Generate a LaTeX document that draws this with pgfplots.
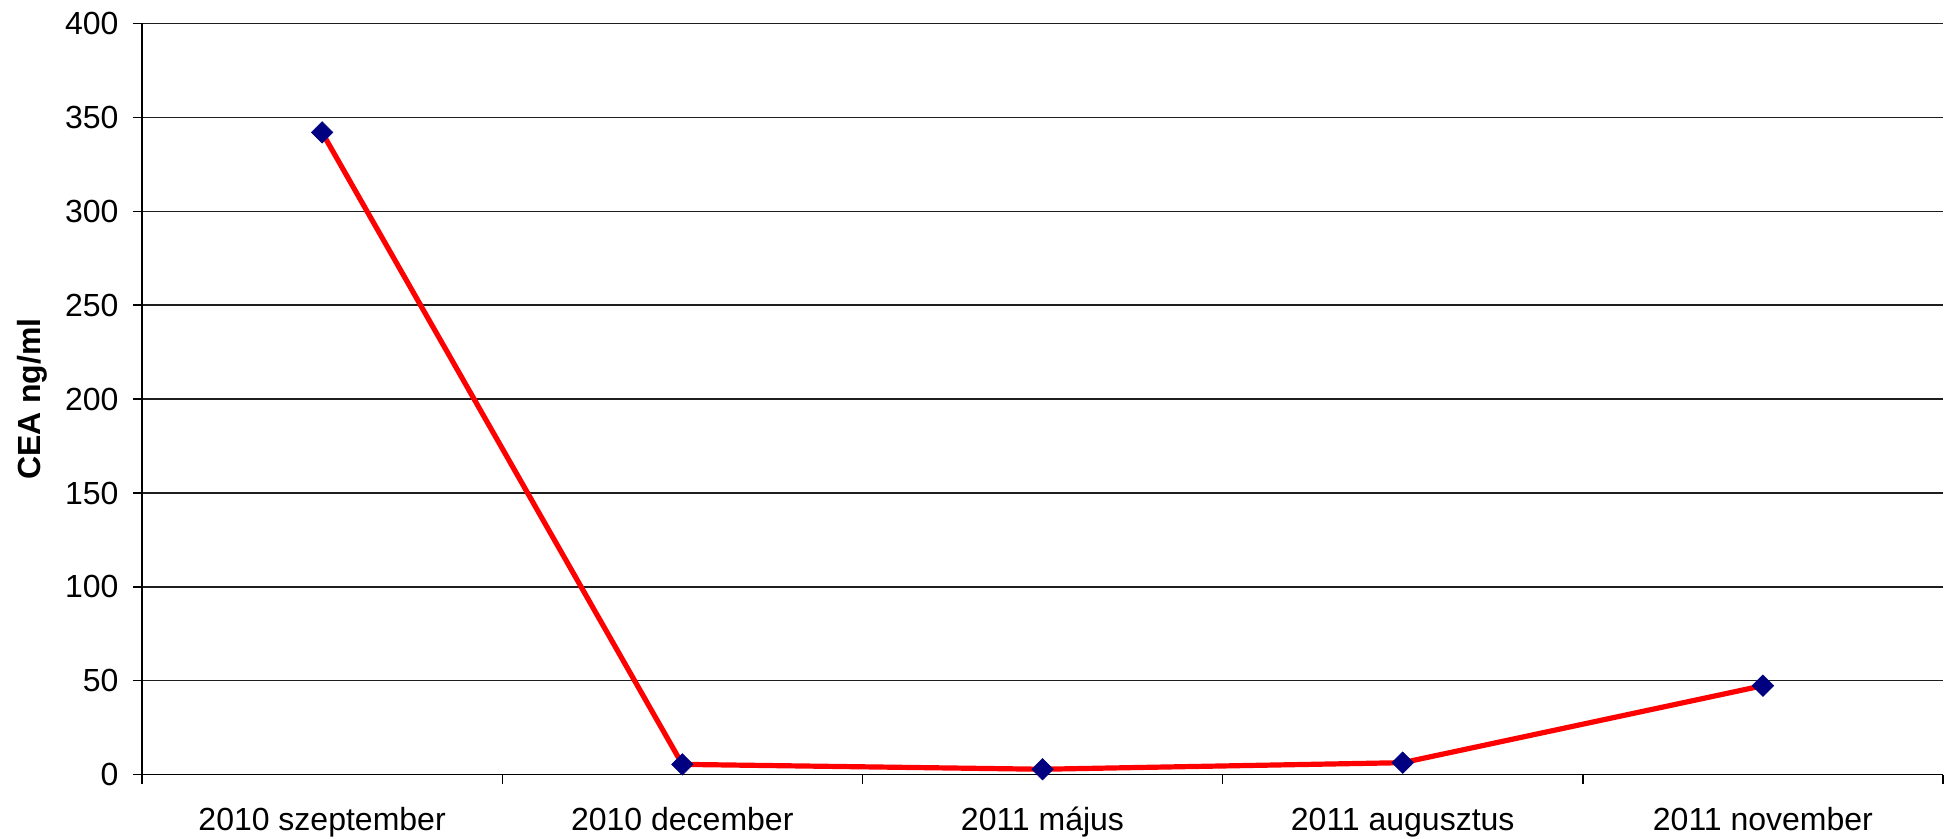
\documentclass[border=0pt]{standalone}
\usepackage{fontspec}
\setmainfont{Liberation Sans}
\usepackage{pgfplots}
\pgfplotsset{compat=1.18}

\definecolor{cealine}{RGB}{255,0,0}
\definecolor{ceamark}{RGB}{0,0,128}
\definecolor{gridgray}{RGB}{30,30,30}

\begin{document}
\begin{tikzpicture}
\begin{axis}[
  scale only axis,
  width=900.5pt, height=375.6pt,
  xmin=-0.5, xmax=4.5,
  ymin=0, ymax=400,
  ytick={0,50,...,400},
  xtick={-0.5,0.5,1.5,2.5,3.5,4.5},
  xticklabels={},
  extra x ticks={0,1,2,3,4},
  extra x tick labels={2010 szeptember,2010 december,2011 május,2011 augusztus,2011 november},
  extra x tick style={major tick length=0pt, grid=none},
  axis x line*=bottom,
  axis y line*=left,
  axis line style={black, line width=0.7pt},
  tick style={black, line width=0.7pt},
  tick align=outside,
  major tick length=4.6pt,
  ymajorgrids,
  grid style={gridgray, line width=0.7pt},
  /pgf/number format/assume math mode=true,
  tick label style={font=\fontsize{16}{19}\selectfont},
  yticklabel style={anchor=east, inner sep=0pt, xshift=-7pt},
  xticklabel style={anchor=base, inner sep=0pt},
  extra x tick style={xticklabel style={anchor=base, inner sep=0pt, yshift=-28pt}},
  ylabel={CEA ng/ml},
  every axis y label/.style={at={(axis description cs:0,0.5)}, xshift=-50.6pt, rotate=90, anchor=base, inner sep=0pt, font=\bfseries\fontsize{16}{19}\selectfont},
  clip=false,
]
% CEA level per follow-up visit
\addplot[color=cealine, line width=2.6pt,
  mark=square*, mark size=3.8pt,
  mark options={rotate=45, fill=ceamark, draw=ceamark, line width=0.3pt}]
  coordinates {(0,342) (1,5.5) (2,2.9) (3,6.4) (4,47.4)};
\end{axis}
\pgfresetboundingbox
\path[use as bounding box] (-71pt,-32.15pt) rectangle (902pt,387.35pt);
\end{tikzpicture}
\end{document}
